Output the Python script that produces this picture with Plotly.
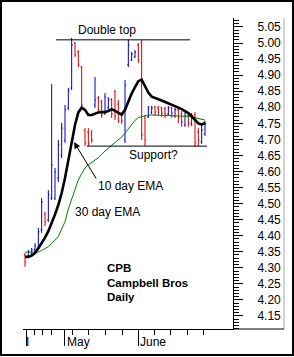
import plotly.graph_objects as go

# ---------------- data ----------------
day = list(range(55))
opens = [4.340, 4.337, 4.343, 4.356, 4.362, 4.418, 4.468, 4.449, 4.517, 4.517,
         4.580, 4.651, 4.698, 4.798, 4.860, 5.000, 4.972, 4.925, 4.729, 4.723,
         4.717, 4.807, 4.829, 4.816, 4.782, 4.798, 4.823, 4.848, 4.810, 4.779,
         4.698, 4.932, 4.947, 4.957, 4.994, 5.000, 4.767, 4.770, 4.785, 4.801,
         4.798, 4.798, 4.795, 4.779, 4.798, 4.773, 4.792, 4.779, 4.745, 4.773,
         4.748, 4.776, 4.723, 4.692, 4.717]
highs = [4.346, 4.356, 4.362, 4.377, 4.424, 4.517, 4.474, 4.542, 4.872, 4.611,
         4.698, 4.751, 4.807, 4.860, 5.016, 5.003, 4.978, 4.929, 4.735, 4.735,
         4.729, 4.894, 4.835, 4.823, 4.844, 4.832, 4.829, 4.854, 4.823, 4.785,
         4.885, 5.010, 4.972, 4.978, 5.000, 5.010, 4.776, 4.804, 4.804, 4.804,
         4.804, 4.801, 4.801, 4.804, 4.801, 4.798, 4.798, 4.788, 4.785, 4.779,
         4.782, 4.785, 4.735, 4.742, 4.757]
lows = [4.303, 4.331, 4.337, 4.349, 4.356, 4.409, 4.430, 4.443, 4.511, 4.511,
        4.567, 4.642, 4.689, 4.792, 4.854, 4.957, 4.925, 4.798, 4.679, 4.679,
        4.689, 4.798, 4.785, 4.767, 4.776, 4.792, 4.767, 4.760, 4.751, 4.748,
        4.689, 4.925, 4.944, 4.953, 4.938, 4.698, 4.679, 4.767, 4.779, 4.773,
        4.773, 4.770, 4.767, 4.773, 4.767, 4.767, 4.751, 4.739, 4.739, 4.739,
        4.742, 4.676, 4.679, 4.686, 4.711]
closes = [4.318, 4.349, 4.356, 4.368, 4.412, 4.505, 4.443, 4.527, 4.620, 4.598,
          4.683, 4.735, 4.792, 4.854, 4.994, 4.963, 4.932, 4.807, 4.689, 4.686,
          4.698, 4.823, 4.792, 4.776, 4.832, 4.823, 4.779, 4.773, 4.760, 4.757,
          4.869, 4.994, 4.966, 4.972, 4.947, 4.714, 4.698, 4.798, 4.798, 4.785,
          4.785, 4.782, 4.779, 4.798, 4.782, 4.792, 4.767, 4.754, 4.773, 4.751,
          4.773, 4.689, 4.698, 4.729, 4.748]
ema10 = [4.334, 4.334, 4.338, 4.346, 4.361, 4.376, 4.394, 4.414, 4.439, 4.466,
         4.496, 4.533, 4.580, 4.634, 4.687, 4.745, 4.784, 4.799, 4.792, 4.776,
         4.776, 4.781, 4.784, 4.785, 4.785, 4.788, 4.794, 4.789, 4.783, 4.777,
         4.792, 4.818, 4.843, 4.863, 4.881, 4.886, 4.868, 4.846, 4.833, 4.830,
         4.825, 4.821, 4.817, 4.813, 4.808, 4.804, 4.799, 4.794, 4.788, 4.782,
         4.772, 4.762, 4.750, 4.746, 4.751]
ema30 = [4.349, 4.349, 4.349, 4.348, 4.349, 4.354, 4.359, 4.366, 4.376, 4.387,
         4.398, 4.421, 4.443, 4.483, 4.514, 4.549, 4.574, 4.593, 4.611, 4.621,
         4.629, 4.636, 4.643, 4.654, 4.664, 4.673, 4.682, 4.690, 4.698, 4.707,
         4.720, 4.733, 4.747, 4.759, 4.768, 4.771, 4.774, 4.776, 4.776, 4.776,
         4.776, 4.775, 4.775, 4.774, 4.774, 4.773, 4.773, 4.773, 4.773, 4.772,
         4.770, 4.768, 4.766, 4.763, 4.760]

double_top_level = 5.01
double_top_span = [9.3, 49.5]
support_level = 4.679
support_span = [18.6, 54.6]

month_tick_days = [0.3, 11.7, 33.9]
month_labels = ["I", "May", "June"]
week_tick_days = [2.7, 5.1, 7.8, 14.1, 18.9, 24.0, 29.1, 38.7, 43.5, 48.6, 53.4]

BLUE = "#0000c8"
RED = "#d00000"
FONT = "Liberation Sans"

# ---------------- layout helpers ----------------
W, H = 294, 357
L, R, T, B = 23, 233, 18, 329


def pxx(px):
    return (px - L) / (R - L)


def pxy(py):
    return (B - py) / (B - T)


fig = go.Figure()
fig.add_trace(go.Ohlc(
    x=day, open=opens, high=highs, low=lows, close=closes,
    increasing=dict(line=dict(color=BLUE, width=1)),
    decreasing=dict(line=dict(color=RED, width=1)),
    tickwidth=0.35, showlegend=False, hoverinfo="skip"))
fig.add_trace(go.Scatter(x=day, y=ema30, mode="lines",
                         line=dict(color="#008000", width=1),
                         showlegend=False, hoverinfo="skip"))
fig.add_trace(go.Scatter(x=day, y=ema10, mode="lines",
                         line=dict(color="black", width=2.6),
                         showlegend=False, hoverinfo="skip"))

shapes = [
    dict(type="line", xref="x", yref="y", x0=double_top_span[0], x1=double_top_span[1],
         y0=double_top_level, y1=double_top_level, line=dict(color="black", width=1)),
    dict(type="line", xref="x", yref="y", x0=support_span[0], x1=support_span[1],
         y0=support_level, y1=support_level, line=dict(color="black", width=1)),
    # grey frame on the right and bottom extension
    dict(type="line", xref="paper", yref="paper", x0=pxx(284), x1=pxx(284), y0=0, y1=1,
         line=dict(color="#a8a8a8", width=1)),
    dict(type="line", xref="paper", yref="paper", x0=1, x1=pxx(284), y0=0, y1=0,
         line=dict(color="black", width=1)),
    # outer border
    dict(type="rect", xref="paper", yref="paper", x0=pxx(1), x1=pxx(293), y0=pxy(1), y1=pxy(355),
         line=dict(color="black", width=2)),
]

ann = []


def text(s, px, py, anchor="left", size=12, bold=False):
    ann.append(dict(text=("<b>%s</b>" % s) if bold else s, xref="paper", yref="paper",
                    x=pxx(px), y=pxy(py), xanchor=anchor, yanchor="middle",
                    showarrow=False, font=dict(family=FONT, size=size, color="black")))


text("Double top", 107, 30, anchor="center")
text("Support?", 153.5, 155, anchor="center")
text("10 day EMA", 96, 186)
text("30 day EMA", 73, 212)
text("CPB", 105, 268, size=11.5, bold=True)
text("Campbell Bros", 105, 283, size=11.5, bold=True)
text("Daily", 105, 297, size=11.5, bold=True)
month_px = [24, 64.5, 137.5]
for lab, mp in zip(month_labels, month_px):
    text(lab, mp, 342)

# arrow from "10 day EMA" to the line
ann.append(dict(text="", xref="paper", yref="paper", x=pxx(74), y=pxy(142),
                ax=23, ay=38, showarrow=True, arrowhead=2, arrowsize=1.3,
                arrowwidth=1, arrowcolor="black"))

fig.update_layout(
    width=W, height=H, autosize=False,
    margin=dict(l=L, r=W - R, t=T, b=H - B, pad=0),
    paper_bgcolor="white", plot_bgcolor="white",
    shapes=shapes, annotations=ann,
    xaxis=dict(range=[-0.6, 62.4], showgrid=False, zeroline=False,
               showline=True, linecolor="black", linewidth=1,
               rangeslider=dict(visible=False),
               tickmode="array", tickvals=month_tick_days, ticktext=["", "", ""],
               ticks="outside", ticklen=16, tickcolor="black", tickwidth=1,
               minor=dict(tickmode="array", tickvals=week_tick_days, ticks="outside",
                          ticklen=5, tickcolor="black", tickwidth=1)),
    yaxis=dict(side="right", range=[4.1095, 5.078], showgrid=False, zeroline=False,
               showline=True, linecolor="black", linewidth=1,
               tickmode="linear", tick0=4.15, dtick=0.05, tickformat=".2f",
               ticks="outside", ticklen=9, tickcolor="black", tickwidth=1,
               ticklabelstandoff=12,
               tickfont=dict(family=FONT, size=12, color="black"),
               minor=dict(tick0=4.15, dtick=0.01, ticks="outside", ticklen=5,
                          tickcolor="black", tickwidth=1)),
)

fig.write_html("out.html")
